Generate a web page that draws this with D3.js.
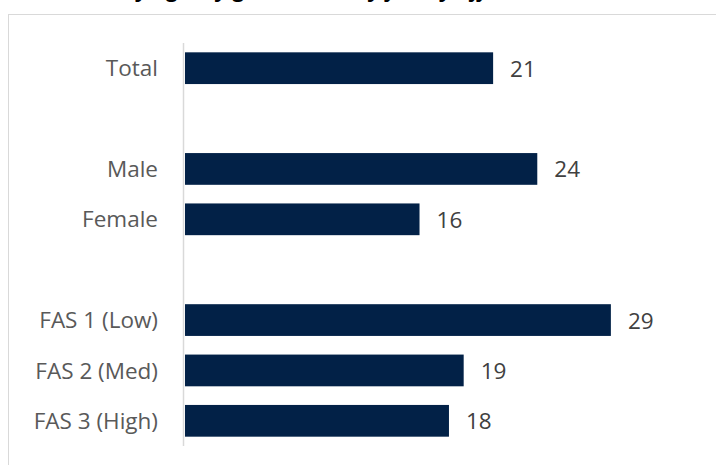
<!DOCTYPE html>
<html><head><meta charset="utf-8">
<script src="https://cdn.jsdelivr.net/npm/d3@7"></script>
<style>body{margin:0;background:#fff}svg{display:block}</style>
</head><body>
<script>
const categories = ["Total", "", "Male", "Female", " ", "FAS 1 (Low)", "FAS 2 (Med)", "FAS 3 (High)"];
const values = [21, null, 24, 16, null, 29, 19, 18];
const titleText = "Prevalence by age, by gender and by family affluence";

const W = 716, H = 465;
const svg = d3.select("body").append("svg").attr("width", W).attr("height", H);

// cropped title (only descenders visible)
svg.append("text").attr("x", 4).attr("y", -3)
  .attr("font-family", "Open Sans").attr("font-weight", "bold").attr("font-style", "italic")
  .attr("font-size", 22).attr("fill", "#000").text(titleText);

// chart frame
svg.append("rect").attr("x", 8.5).attr("y", 14.5).attr("width", 720).attr("height", 470)
  .attr("fill", "none").attr("stroke", "#d9d9d9").attr("stroke-width", 1);

const x0 = 184;
const x = d3.scaleLinear().domain([0, 1]).range([x0, x0 + 14.72]);
const y = d3.scaleBand().domain(categories).range([43, 446]).paddingInner(0.37).paddingOuter(0.185);

const data = categories.map((c, i) => ({c, v: values[i]}));

svg.selectAll("rect.bar").data(data.filter(d => d.v != null)).join("rect")
  .attr("class", "bar")
  .attr("x", x(0) + 1).attr("y", d => y(d.c))
  .attr("width", d => x(d.v) - x(0) - 1).attr("height", y.bandwidth())
  .attr("fill", "#022147");

// axis line
svg.append("line").attr("x1", x0 - 0.5).attr("x2", x0 - 0.5).attr("y1", 43).attr("y2", 446)
  .attr("stroke", "#d9d9d9").attr("stroke-width", 1.5);

// category labels
svg.selectAll("text.cat").data(data.filter(d => d.c.trim() !== "")).join("text")
  .attr("class", "cat")
  .attr("x", 158).attr("y", d => y(d.c) + y.bandwidth() / 2)
  .attr("dy", "0.36em").attr("text-anchor", "end")
  .attr("font-family", "Open Sans").attr("font-size", 22.5).attr("fill", "#595959")
  .text(d => d.c);

// value labels
svg.selectAll("text.val").data(data.filter(d => d.v != null)).join("text")
  .attr("class", "val")
  .attr("x", d => x(d.v) + 17).attr("y", d => y(d.c) + y.bandwidth() / 2)
  .attr("dy", "0.38em")
  .attr("font-family", "Open Sans").attr("font-size", 22.5).attr("fill", "#404040")
  .text(d => d.v);
</script>
</body></html>
